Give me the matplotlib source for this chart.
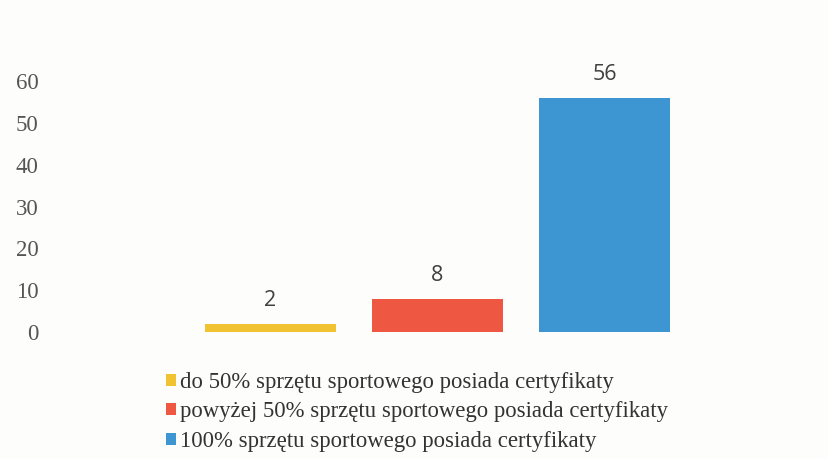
import matplotlib.pyplot as plt
from matplotlib.patches import Patch

categories = ["do 50% sprzętu sportowego posiada certyfikaty",
              "powyżej 50% sprzętu sportowego posiada certyfikaty",
              "100% sprzętu sportowego posiada certyfikaty"]
values = [2, 8, 56]
colors = ["#F1C232", "#EE5843", "#3D95D2"]
yticks = [0, 10, 20, 30, 40, 50, 60]

W, H = 829, 459
fig = plt.figure(figsize=(W / 100, H / 100), dpi=100, facecolor="#fdfdfb")

# axes placed in pixels: x 44..790, y 50..332
ax = fig.add_axes([44 / W, 1 - 332 / H, 746 / W, 282 / H])
ax.set_facecolor("none")

# bar centers at px 270.5 + 167*i, width 131 px
px_per_unit = 167
x0 = (44 - 270.5) / px_per_unit
x1 = (790 - 270.5) / px_per_unit
ax.set_xlim(x0, x1)
ax.set_ylim(0, 282 / 4.18)

xs = range(len(values))
bars = ax.bar(xs, values, width=131 / 167, color=colors)

for x, v in zip(xs, values):
    ax.text(x, v + 3.0, str(v), ha="center", va="bottom",
            fontsize=15.5, family="Open Sans", color="#404040")

ax.set_yticks(yticks)
ax.set_yticklabels([str(t) for t in yticks], family="Liberation Serif",
                   fontsize=16.5, color="#555555")
ax.tick_params(axis="y", length=0, pad=4)
ax.set_xticks([])
for s in ax.spines.values():
    s.set_visible(False)

handles = [Patch(facecolor=c) for c in colors]
fig.legend(handles, categories, loc="upper left",
           bbox_to_anchor=(166 / W, 1 - 372 / H), frameon=False,
           prop={"family": "Liberation Serif", "size": 16.4},
           labelcolor="#333333", handlelength=0.45, handleheight=0.45,
           handletextpad=0.15, labelspacing=0.37, borderpad=0, borderaxespad=0)

fig.savefig("out.png", dpi=100, facecolor=fig.get_facecolor())
